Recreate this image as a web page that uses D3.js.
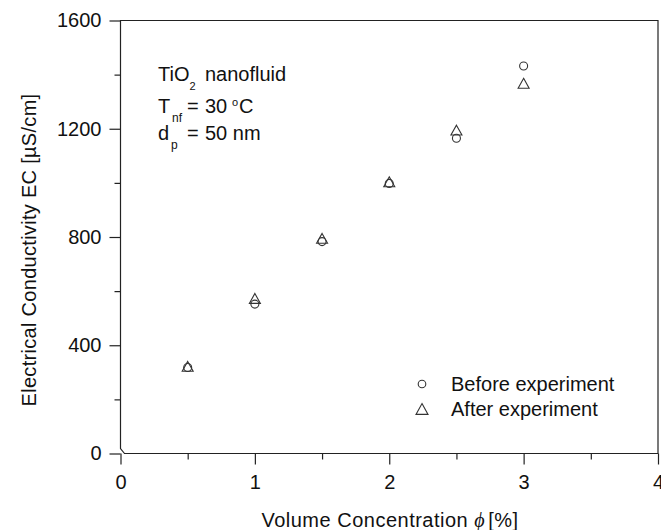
<!DOCTYPE html>
<html>
<head>
<meta charset="utf-8">
<script src="https://cdn.jsdelivr.net/npm/d3@7"></script>
<style>
  html, body { margin: 0; padding: 0; background: #fff; }
  svg { display: block; font-family: Arial, "Liberation Sans", sans-serif; }
</style>
</head>
<body>
<svg id="chart" width="661" height="530"></svg>
<script>
// Volume concentration (%) of the samples
const concentration = [0.5, 1.0, 1.5, 2.0, 2.5, 3.0];
// Electrical conductivity (µS/cm) measured before and after the experiment
const ecBefore = [318, 552, 783, 998, 1165, 1432];
const ecAfter  = [322, 573, 795, 1004, 1195, 1368];

const xMajorTicks = [0, 1, 2, 3, 4];
const xMinorTicks = [0.5, 1.5, 2.5, 3.5];
const yMajorTicks = [0, 400, 800, 1200, 1600];
const yMinorTicks = [200, 600, 1000, 1400];

(function draw() {
  const svg = d3.select("#chart");
  const ink = "#222";
  const textInk = "#111";
  const font = 'Arial, "Liberation Sans", sans-serif';

  const pl = 120.5, pr = 658, pt = 20.5, pb = 453.5;
  const x = d3.scaleLinear().domain([0, 4]).range([pl, pr]);
  const y = d3.scaleLinear().domain([0, 1600]).range([pb, pt]);

  // Frame with a small break at the origin corner
  svg.append("path")
    .attr("d", `M${pl},${pt} V${pb - 5} L${pl + 4},${pb} H${pr} V${pt} Z`)
    .attr("fill", "none").attr("stroke", ink).attr("stroke-width", 1.2);

  // Left axis: outward major and minor ticks
  const yAxis = svg.append("g").attr("transform", `translate(${pl},0)`)
    .call(d3.axisLeft(y).tickValues(yMajorTicks).tickSize(11).tickPadding(8).tickFormat(d3.format("d")));
  yAxis.select(".domain").remove();
  yAxis.selectAll(".tick line").attr("stroke", ink).attr("stroke-width", 1.2);
  yAxis.selectAll(".tick text").attr("font-size", 20).attr("fill", textInk).attr("font-family", font);
  svg.append("g").attr("transform", `translate(${pl},0)`)
    .call(d3.axisLeft(y).tickValues(yMinorTicks).tickSize(6).tickFormat(""))
    .call(g => g.select(".domain").remove())
    .selectAll(".tick line").attr("stroke", ink).attr("stroke-width", 1.2);

  // Bottom axis: outward major and minor ticks
  const xAxis = svg.append("g").attr("transform", `translate(0,${pb})`)
    .call(d3.axisBottom(x).tickValues(xMajorTicks).tickSize(11).tickPadding(10).tickFormat(d3.format("d")));
  xAxis.select(".domain").remove();
  xAxis.selectAll(".tick line").attr("stroke", ink).attr("stroke-width", 1.2);
  xAxis.selectAll(".tick text").attr("font-size", 20).attr("fill", textInk).attr("font-family", font);
  svg.append("g").attr("transform", `translate(0,${pb})`)
    .call(d3.axisBottom(x).tickValues(xMinorTicks).tickSize(6).tickFormat(""))
    .call(g => g.select(".domain").remove())
    .selectAll(".tick line").attr("stroke", ink).attr("stroke-width", 1.2);

  // Axis titles
  svg.append("text")
    .attr("transform", "translate(36,250) rotate(-90)")
    .attr("text-anchor", "middle")
    .attr("font-size", 20).attr("letter-spacing", 0.3).attr("fill", textInk)
    .text("Electrical Conductivity EC [µS/cm]");

  const xt = svg.append("text")
    .attr("x", 390).attr("y", 527)
    .attr("text-anchor", "middle").attr("font-size", 20)
    .attr("letter-spacing", 0.5).attr("fill", textInk);
  xt.append("tspan").text("Volume Concentration ");
  xt.append("tspan").attr("font-style", "italic")
    .attr("font-family", '"Times New Roman", "Liberation Serif", serif').text("ϕ");
  xt.append("tspan").attr("dx", 3).text("[%]");

  // Open triangle centred on its bounding box
  const triangleBox = {
    draw(context, size) {
      const s = Math.sqrt(size);          // side length
      const h = s * 0.9;
      context.moveTo(0, -h / 2);
      context.lineTo(s / 2, h / 2);
      context.lineTo(-s / 2, h / 2);
      context.closePath();
    }
  };
  const triPath = d3.symbol().type(triangleBox).size(121);
  const markStroke = "#333";

  svg.append("g").selectAll("circle")
    .data(concentration.map((c, i) => [c, ecBefore[i]]))
    .join("circle")
    .attr("cx", d => x(d[0])).attr("cy", d => y(d[1])).attr("r", 4)
    .attr("fill", "none").attr("stroke", markStroke).attr("stroke-width", 1.1);

  svg.append("g").selectAll("path")
    .data(concentration.map((c, i) => [c, ecAfter[i]]))
    .join("path")
    .attr("d", triPath)
    .attr("transform", d => `translate(${x(d[0])},${y(d[1])})`)
    .attr("fill", "none").attr("stroke", markStroke).attr("stroke-width", 1.1);

  // Annotation block
  const note = svg.append("g").attr("font-size", 20).attr("fill", textInk);
  const col = 205;

  const l1 = note.append("text").attr("y", 81);
  l1.append("tspan").attr("x", 158).text("TiO");
  l1.append("tspan").attr("font-size", 11).attr("dy", 9).text("2");
  l1.append("tspan").attr("x", col).attr("dy", -9).text("nanofluid");

  const l2 = note.append("text").attr("y", 113);
  l2.append("tspan").attr("x", 158).text("T");
  l2.append("tspan").attr("x", 172).attr("font-size", 12).attr("dy", 9).text("nf");
  l2.append("tspan").attr("x", 187).attr("dy", -9).text("=");
  l2.append("tspan").attr("x", col).text("30");
  l2.append("tspan").attr("x", 232).attr("font-size", 11).attr("dy", -7).text("o");
  l2.append("tspan").attr("x", 239).attr("dy", 7).text("C");

  const l3 = note.append("text").attr("y", 140);
  l3.append("tspan").attr("x", 158).text("d");
  l3.append("tspan").attr("x", 171).attr("font-size", 12).attr("dy", 9).text("p");
  l3.append("tspan").attr("x", 187).attr("dy", -9).text("=");
  l3.append("tspan").attr("x", col).text("50 nm");

  // Legend
  const legend = svg.append("g");
  legend.append("circle").attr("cx", 422).attr("cy", 384).attr("r", 3.8)
    .attr("fill", "none").attr("stroke", markStroke).attr("stroke-width", 1.1);
  legend.append("path").attr("d", d3.symbol().type(triangleBox).size(144))
    .attr("transform", "translate(422,409)")
    .attr("fill", "none").attr("stroke", markStroke).attr("stroke-width", 1.1);
  legend.append("text").attr("x", 451).attr("y", 391).attr("font-size", 20)
    .attr("fill", textInk).text("Before experiment");
  legend.append("text").attr("x", 451).attr("y", 416).attr("font-size", 20)
    .attr("fill", textInk).text("After experiment");
})();
</script>
</body>
</html>
